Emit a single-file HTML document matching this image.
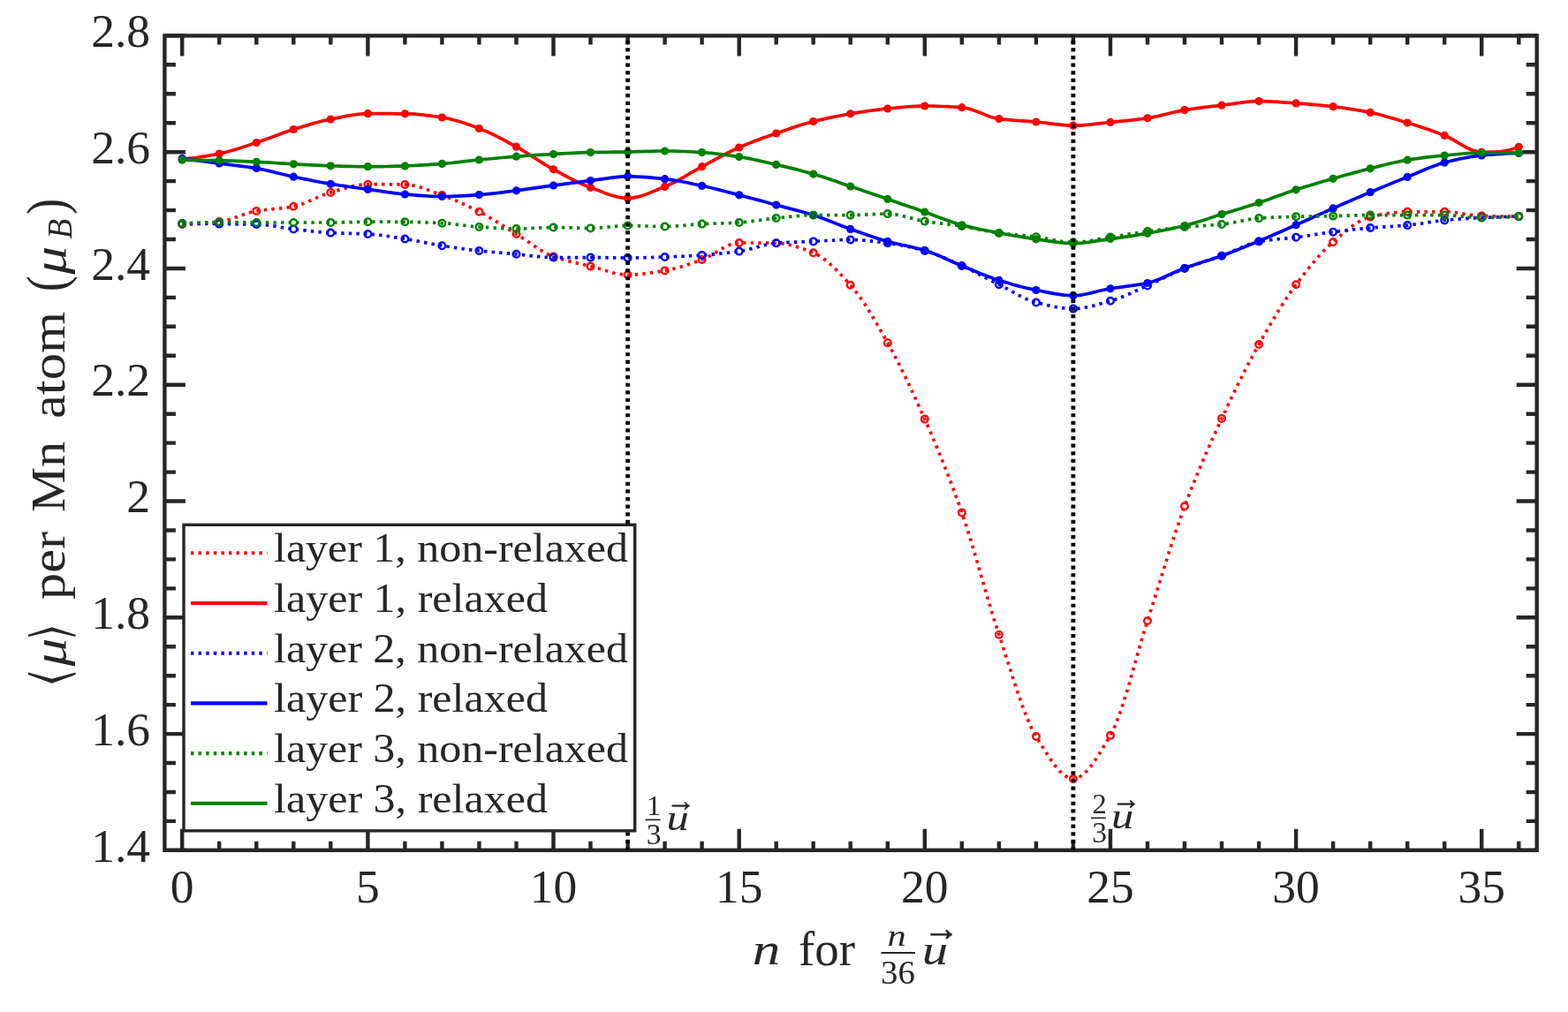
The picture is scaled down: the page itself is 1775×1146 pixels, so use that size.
<!DOCTYPE html><html><head><meta charset="utf-8"><title>Magnetic moment per Mn atom</title><style>html,body{margin:0;padding:0;background:#fff;overflow:hidden}svg{display:block}</style></head><body>
<svg width="1775" height="1146" viewBox="0 0 1775 1146">
<rect width="1775" height="1146" fill="#fff"/>
<defs><filter id="b" x="-1%" y="-1%" width="102%" height="102%"><feGaussianBlur stdDeviation="0.55"/></filter></defs>
<g filter="url(#b)">
<path d="M206.2,962.8V938.8M206.2,40.45V63.45M248.2,962.8V952.8M248.2,40.45V50.45M290.3,962.8V952.8M290.3,40.45V50.45M332.3,962.8V952.8M332.3,40.45V50.45M374.3,962.8V952.8M374.3,40.45V50.45M416.4,962.8V938.8M416.4,40.45V63.45M458.4,962.8V952.8M458.4,40.45V50.45M500.4,962.8V952.8M500.4,40.45V50.45M542.4,962.8V952.8M542.4,40.45V50.45M584.5,962.8V952.8M584.5,40.45V50.45M626.5,962.8V938.8M626.5,40.45V63.45M668.5,962.8V952.8M668.5,40.45V50.45M710.6,962.8V952.8M710.6,40.45V50.45M752.6,962.8V952.8M752.6,40.45V50.45M794.6,962.8V952.8M794.6,40.45V50.45M836.7,962.8V938.8M836.7,40.45V63.45M878.7,962.8V952.8M878.7,40.45V50.45M920.7,962.8V952.8M920.7,40.45V50.45M962.7,962.8V952.8M962.7,40.45V50.45M1004.8,962.8V952.8M1004.8,40.45V50.45M1046.8,962.8V938.8M1046.8,40.45V63.45M1088.8,962.8V952.8M1088.8,40.45V50.45M1130.9,962.8V952.8M1130.9,40.45V50.45M1172.9,962.8V952.8M1172.9,40.45V50.45M1214.9,962.8V952.8M1214.9,40.45V50.45M1257.0,962.8V938.8M1257.0,40.45V63.45M1299.0,962.8V952.8M1299.0,40.45V50.45M1341.0,962.8V952.8M1341.0,40.45V50.45M1383.0,962.8V952.8M1383.0,40.45V50.45M1425.1,962.8V952.8M1425.1,40.45V50.45M1467.1,962.8V938.8M1467.1,40.45V63.45M1509.1,962.8V952.8M1509.1,40.45V50.45M1551.2,962.8V952.8M1551.2,40.45V50.45M1593.2,962.8V952.8M1593.2,40.45V50.45M1635.2,962.8V952.8M1635.2,40.45V50.45M1677.2,962.8V938.8M1677.2,40.45V63.45M1719.3,962.8V952.8M1719.3,40.45V50.45M186.4,962.9H209.9M1739.7,962.9H1716.7M186.4,929.9H198.9M1739.7,929.9H1727.7M186.4,897.0H198.9M1739.7,897.0H1727.7M186.4,864.0H198.9M1739.7,864.0H1727.7M186.4,831.1H209.9M1739.7,831.1H1716.7M186.4,798.1H198.9M1739.7,798.1H1727.7M186.4,765.2H198.9M1739.7,765.2H1727.7M186.4,732.2H198.9M1739.7,732.2H1727.7M186.4,699.3H209.9M1739.7,699.3H1716.7M186.4,666.4H198.9M1739.7,666.4H1727.7M186.4,633.4H198.9M1739.7,633.4H1727.7M186.4,600.5H198.9M1739.7,600.5H1727.7M186.4,567.5H209.9M1739.7,567.5H1716.7M186.4,534.6H198.9M1739.7,534.6H1727.7M186.4,501.6H198.9M1739.7,501.6H1727.7M186.4,468.7H198.9M1739.7,468.7H1727.7M186.4,435.7H209.9M1739.7,435.7H1716.7M186.4,402.8H198.9M1739.7,402.8H1727.7M186.4,369.8H198.9M1739.7,369.8H1727.7M186.4,336.9H198.9M1739.7,336.9H1727.7M186.4,304.0H209.9M1739.7,304.0H1716.7M186.4,271.0H198.9M1739.7,271.0H1727.7M186.4,238.1H198.9M1739.7,238.1H1727.7M186.4,205.1H198.9M1739.7,205.1H1727.7M186.4,172.2H209.9M1739.7,172.2H1716.7M186.4,139.2H198.9M1739.7,139.2H1727.7M186.4,106.3H198.9M1739.7,106.3H1727.7M186.4,73.3H198.9M1739.7,73.3H1727.7M186.4,40.4H209.9M1739.7,40.4H1716.7" stroke="#262626" stroke-width="4.4" fill="none"/>
<rect x="186.4" y="40.45" width="1553.3" height="922.3499999999999" fill="none" stroke="#262626" stroke-width="4.4"/>
<g fill="none" stroke-linejoin="round">
<polyline points="206.2,254.0 211.5,253.9 216.7,253.8 222.0,253.5 227.2,253.1 232.5,252.7 237.7,252.1 243.0,251.6 248.2,251.0 253.5,250.1 258.7,248.8 264.0,247.1 269.2,245.3 274.5,243.4 279.8,241.7 285.0,240.1 290.3,239.0 295.5,238.2 300.8,237.5 306.0,237.0 311.3,236.5 316.5,236.0 321.8,235.4 327.0,234.7 332.3,233.8 337.5,232.5 342.8,230.8 348.1,228.6 353.3,226.3 358.6,223.9 363.8,221.7 369.1,219.6 374.3,217.9 379.6,216.4 384.8,214.8 390.1,213.3 395.3,211.8 400.6,210.6 405.8,209.6 411.1,208.9 416.4,208.7 421.6,208.7 426.9,208.7 432.1,208.7 437.4,208.8 442.6,208.8 447.9,208.9 453.1,208.9 458.4,209.0 463.6,209.4 468.9,210.3 474.1,211.6 479.4,213.2 484.6,215.1 489.9,217.1 495.2,219.1 500.4,221.0 505.7,222.9 510.9,225.0 516.2,227.2 521.4,229.5 526.7,232.0 531.9,234.5 537.2,237.1 542.4,239.8 547.7,242.6 552.9,245.6 558.2,248.7 563.5,251.9 568.7,255.2 574.0,258.5 579.2,261.8 584.5,265.0 589.7,268.3 595.0,271.8 600.2,275.4 605.5,279.0 610.7,282.4 616.0,285.5 621.2,288.3 626.5,290.5 631.8,292.3 637.0,293.9 642.3,295.4 647.5,296.7 652.8,297.9 658.0,299.1 663.3,300.3 668.5,301.6 673.8,303.0 679.0,304.5 684.3,306.1 689.5,307.7 694.8,309.1 700.1,310.2 705.3,310.9 710.6,311.2 715.8,311.1 721.1,310.8 726.3,310.3 731.6,309.7 736.8,308.9 742.1,308.1 747.3,307.3 752.6,306.4 757.8,305.4 763.1,304.2 768.4,302.8 773.6,301.2 778.9,299.5 784.1,297.7 789.4,295.9 794.6,294.0 799.9,291.7 805.1,288.9 810.4,285.8 815.6,282.6 820.9,279.7 826.1,277.3 831.4,275.6 836.7,275.0 841.9,275.0 847.2,275.0 852.4,275.0 857.7,275.1 862.9,275.1 868.2,275.2 873.4,275.2 878.7,275.3 883.9,275.6 889.2,276.3 894.4,277.4 899.7,278.8 904.9,280.4 910.2,282.2 915.5,284.2 920.7,286.3 926.0,288.8 931.2,292.2 936.5,296.2 941.7,300.8 947.0,305.9 952.2,311.3 957.5,317.0 962.7,322.8 968.0,329.1 973.2,336.1 978.5,343.8 983.8,352.1 989.0,360.7 994.3,369.7 999.5,378.9 1004.8,388.2 1010.0,397.7 1015.3,407.7 1020.5,418.1 1025.8,428.8 1031.0,439.9 1036.3,451.2 1041.5,462.8 1046.8,474.6 1052.1,486.6 1057.3,498.9 1062.6,511.5 1067.8,524.4 1073.1,537.7 1078.3,551.5 1083.6,565.7 1088.8,580.4 1094.1,596.1 1099.3,613.0 1104.6,630.7 1109.8,648.8 1115.1,667.1 1120.4,685.0 1125.6,702.4 1130.9,718.7 1136.1,734.8 1141.4,751.2 1146.6,767.6 1151.9,783.6 1157.1,798.6 1162.4,812.3 1167.6,824.3 1172.9,834.0 1178.1,842.5 1183.4,851.0 1188.7,859.1 1193.9,866.5 1199.2,872.8 1204.4,877.7 1209.7,880.9 1214.9,882.0 1220.2,880.9 1225.4,877.6 1230.7,872.7 1235.9,866.3 1241.2,858.8 1246.4,850.4 1251.7,841.7 1257.0,832.7 1262.2,822.1 1267.5,808.5 1272.7,792.6 1278.0,775.1 1283.2,756.8 1288.5,738.2 1293.7,720.0 1299.0,703.0 1304.2,686.6 1309.5,669.8 1314.7,652.9 1320.0,636.0 1325.2,619.4 1330.5,603.3 1335.8,587.9 1341.0,573.3 1346.3,559.5 1351.5,546.2 1356.8,533.4 1362.0,520.9 1367.3,508.8 1372.5,497.0 1377.8,485.3 1383.0,473.9 1388.3,462.6 1393.5,451.5 1398.8,440.6 1404.1,429.9 1409.3,419.5 1414.6,409.4 1419.8,399.5 1425.1,390.0 1430.3,380.7 1435.6,371.5 1440.8,362.6 1446.1,353.8 1451.3,345.4 1456.6,337.3 1461.8,329.6 1467.1,322.3 1472.4,315.3 1477.6,308.5 1482.9,301.9 1488.1,295.6 1493.4,289.6 1498.6,283.9 1503.9,278.7 1509.1,274.0 1514.4,269.5 1519.6,265.0 1524.9,260.6 1530.1,256.5 1535.4,252.9 1540.7,249.7 1545.9,247.3 1551.2,245.6 1556.4,244.4 1561.7,243.3 1566.9,242.4 1572.2,241.5 1577.4,240.8 1582.7,240.3 1587.9,239.9 1593.2,239.8 1598.4,239.8 1603.7,239.8 1609.0,239.8 1614.2,239.8 1619.5,239.8 1624.7,239.8 1630.0,239.8 1635.2,239.8 1640.5,240.0 1645.7,240.5 1651.0,241.2 1656.2,242.1 1661.5,242.9 1666.7,243.7 1672.0,244.3 1677.2,244.6 1682.5,244.7 1687.8,244.8 1693.0,244.9 1698.3,245.0 1703.5,245.0 1708.8,245.1 1714.0,245.1 1719.3,245.1" stroke="#ff0000" stroke-width="3.7" stroke-dasharray="3.4 5.2"/>
<circle cx="206.2" cy="254.0" r="3.8" stroke="#ff0000" stroke-width="2.4" fill="#fff" fill-opacity="0"/>
<circle cx="248.2" cy="251.0" r="3.8" stroke="#ff0000" stroke-width="2.4" fill="#fff" fill-opacity="0"/>
<circle cx="290.3" cy="239.0" r="3.8" stroke="#ff0000" stroke-width="2.4" fill="#fff" fill-opacity="0"/>
<circle cx="332.3" cy="233.8" r="3.8" stroke="#ff0000" stroke-width="2.4" fill="#fff" fill-opacity="0"/>
<circle cx="374.3" cy="217.9" r="3.8" stroke="#ff0000" stroke-width="2.4" fill="#fff" fill-opacity="0"/>
<circle cx="416.4" cy="208.7" r="3.8" stroke="#ff0000" stroke-width="2.4" fill="#fff" fill-opacity="0"/>
<circle cx="458.4" cy="209.0" r="3.8" stroke="#ff0000" stroke-width="2.4" fill="#fff" fill-opacity="0"/>
<circle cx="500.4" cy="221.0" r="3.8" stroke="#ff0000" stroke-width="2.4" fill="#fff" fill-opacity="0"/>
<circle cx="542.4" cy="239.8" r="3.8" stroke="#ff0000" stroke-width="2.4" fill="#fff" fill-opacity="0"/>
<circle cx="584.5" cy="265.0" r="3.8" stroke="#ff0000" stroke-width="2.4" fill="#fff" fill-opacity="0"/>
<circle cx="626.5" cy="290.5" r="3.8" stroke="#ff0000" stroke-width="2.4" fill="#fff" fill-opacity="0"/>
<circle cx="668.5" cy="301.6" r="3.8" stroke="#ff0000" stroke-width="2.4" fill="#fff" fill-opacity="0"/>
<circle cx="710.6" cy="311.2" r="3.8" stroke="#ff0000" stroke-width="2.4" fill="#fff" fill-opacity="0"/>
<circle cx="752.6" cy="306.4" r="3.8" stroke="#ff0000" stroke-width="2.4" fill="#fff" fill-opacity="0"/>
<circle cx="794.6" cy="294.0" r="3.8" stroke="#ff0000" stroke-width="2.4" fill="#fff" fill-opacity="0"/>
<circle cx="836.7" cy="275.0" r="3.8" stroke="#ff0000" stroke-width="2.4" fill="#fff" fill-opacity="0"/>
<circle cx="878.7" cy="275.3" r="3.8" stroke="#ff0000" stroke-width="2.4" fill="#fff" fill-opacity="0"/>
<circle cx="920.7" cy="286.3" r="3.8" stroke="#ff0000" stroke-width="2.4" fill="#fff" fill-opacity="0"/>
<circle cx="962.7" cy="322.8" r="3.8" stroke="#ff0000" stroke-width="2.4" fill="#fff" fill-opacity="0"/>
<circle cx="1004.8" cy="388.2" r="3.8" stroke="#ff0000" stroke-width="2.4" fill="#fff" fill-opacity="0"/>
<circle cx="1046.8" cy="474.6" r="3.8" stroke="#ff0000" stroke-width="2.4" fill="#fff" fill-opacity="0"/>
<circle cx="1088.8" cy="580.4" r="3.8" stroke="#ff0000" stroke-width="2.4" fill="#fff" fill-opacity="0"/>
<circle cx="1130.9" cy="718.7" r="3.8" stroke="#ff0000" stroke-width="2.4" fill="#fff" fill-opacity="0"/>
<circle cx="1172.9" cy="834.0" r="3.8" stroke="#ff0000" stroke-width="2.4" fill="#fff" fill-opacity="0"/>
<circle cx="1214.9" cy="882.0" r="3.8" stroke="#ff0000" stroke-width="2.4" fill="#fff" fill-opacity="0"/>
<circle cx="1257.0" cy="832.7" r="3.8" stroke="#ff0000" stroke-width="2.4" fill="#fff" fill-opacity="0"/>
<circle cx="1299.0" cy="703.0" r="3.8" stroke="#ff0000" stroke-width="2.4" fill="#fff" fill-opacity="0"/>
<circle cx="1341.0" cy="573.3" r="3.8" stroke="#ff0000" stroke-width="2.4" fill="#fff" fill-opacity="0"/>
<circle cx="1383.0" cy="473.9" r="3.8" stroke="#ff0000" stroke-width="2.4" fill="#fff" fill-opacity="0"/>
<circle cx="1425.1" cy="390.0" r="3.8" stroke="#ff0000" stroke-width="2.4" fill="#fff" fill-opacity="0"/>
<circle cx="1467.1" cy="322.3" r="3.8" stroke="#ff0000" stroke-width="2.4" fill="#fff" fill-opacity="0"/>
<circle cx="1509.1" cy="274.0" r="3.8" stroke="#ff0000" stroke-width="2.4" fill="#fff" fill-opacity="0"/>
<circle cx="1551.2" cy="245.6" r="3.8" stroke="#ff0000" stroke-width="2.4" fill="#fff" fill-opacity="0"/>
<circle cx="1593.2" cy="239.8" r="3.8" stroke="#ff0000" stroke-width="2.4" fill="#fff" fill-opacity="0"/>
<circle cx="1635.2" cy="239.8" r="3.8" stroke="#ff0000" stroke-width="2.4" fill="#fff" fill-opacity="0"/>
<circle cx="1677.2" cy="244.6" r="3.8" stroke="#ff0000" stroke-width="2.4" fill="#fff" fill-opacity="0"/>
<circle cx="1719.3" cy="245.1" r="3.8" stroke="#ff0000" stroke-width="2.4" fill="#fff" fill-opacity="0"/>
<polyline points="206.2,180.1 211.5,179.7 216.7,179.1 222.0,178.5 227.2,177.7 232.5,176.9 237.7,176.0 243.0,175.0 248.2,174.0 253.5,172.9 258.7,171.5 264.0,170.0 269.2,168.4 274.5,166.7 279.8,165.0 285.0,163.2 290.3,161.5 295.5,159.7 300.8,157.8 306.0,155.9 311.3,153.9 316.5,152.0 321.8,150.0 327.0,148.2 332.3,146.5 337.5,144.9 342.8,143.3 348.1,141.7 353.3,140.1 358.6,138.7 363.8,137.3 369.1,136.1 374.3,135.0 379.6,134.0 384.8,132.9 390.1,131.8 395.3,130.8 400.6,130.0 405.8,129.3 411.1,128.9 416.4,128.7 421.6,128.7 426.9,128.7 432.1,128.7 437.4,128.7 442.6,128.7 447.9,128.8 453.1,128.8 458.4,128.8 463.6,128.9 468.9,129.2 474.1,129.6 479.4,130.1 484.6,130.8 489.9,131.5 495.2,132.2 500.4,133.0 505.7,133.9 510.9,135.1 516.2,136.5 521.4,138.1 526.7,139.8 531.9,141.6 537.2,143.6 542.4,145.5 547.7,147.6 552.9,149.9 558.2,152.3 563.5,154.9 568.7,157.7 574.0,160.5 579.2,163.3 584.5,166.2 589.7,169.2 595.0,172.4 600.2,175.7 605.5,179.0 610.7,182.4 616.0,185.7 621.2,188.8 626.5,191.8 631.8,194.7 637.0,197.5 642.3,200.3 647.5,203.0 652.8,205.6 658.0,208.0 663.3,210.3 668.5,212.3 673.8,214.3 679.0,216.3 684.3,218.4 689.5,220.3 694.8,221.9 700.1,223.2 705.3,224.1 710.6,224.4 715.8,224.1 721.1,223.1 726.3,221.7 731.6,220.0 736.8,217.9 742.1,215.8 747.3,213.5 752.6,211.4 757.8,209.1 763.1,206.6 768.4,203.7 773.6,200.8 778.9,197.7 784.1,194.6 789.4,191.6 794.6,188.7 799.9,185.9 805.1,183.1 810.4,180.2 815.6,177.4 820.9,174.6 826.1,171.9 831.4,169.4 836.7,167.0 841.9,164.7 847.2,162.6 852.4,160.5 857.7,158.5 862.9,156.6 868.2,154.7 873.4,152.8 878.7,151.0 883.9,149.2 889.2,147.4 894.4,145.6 899.7,143.8 904.9,142.1 910.2,140.5 915.5,139.0 920.7,137.6 926.0,136.3 931.2,135.1 936.5,133.9 941.7,132.7 947.0,131.7 952.2,130.7 957.5,129.7 962.7,128.8 968.0,127.9 973.2,127.1 978.5,126.3 983.8,125.5 989.0,124.8 994.3,124.1 999.5,123.5 1004.8,123.0 1010.0,122.5 1015.3,122.0 1020.5,121.5 1025.8,121.0 1031.0,120.6 1036.3,120.3 1041.5,120.1 1046.8,120.0 1052.1,120.0 1057.3,120.1 1062.6,120.3 1067.8,120.5 1073.1,120.7 1078.3,121.0 1083.6,121.3 1088.8,121.7 1094.1,122.5 1099.3,123.9 1104.6,125.7 1109.8,127.8 1115.1,129.9 1120.4,131.9 1125.6,133.5 1130.9,134.5 1136.1,135.1 1141.4,135.6 1146.6,136.1 1151.9,136.5 1157.1,136.8 1162.4,137.2 1167.6,137.6 1172.9,138.0 1178.1,138.5 1183.4,139.2 1188.7,139.9 1193.9,140.6 1199.2,141.2 1204.4,141.7 1209.7,142.1 1214.9,142.2 1220.2,142.1 1225.4,141.8 1230.7,141.4 1235.9,140.8 1241.2,140.2 1246.4,139.6 1251.7,139.0 1257.0,138.4 1262.2,137.9 1267.5,137.4 1272.7,136.9 1278.0,136.3 1283.2,135.8 1288.5,135.2 1293.7,134.5 1299.0,133.8 1304.2,132.9 1309.5,131.8 1314.7,130.6 1320.0,129.3 1325.2,128.0 1330.5,126.7 1335.8,125.6 1341.0,124.6 1346.3,123.8 1351.5,123.0 1356.8,122.3 1362.0,121.7 1367.3,121.0 1372.5,120.4 1377.8,119.8 1383.0,119.2 1388.3,118.5 1393.5,117.8 1398.8,117.0 1404.1,116.3 1409.3,115.6 1414.6,115.1 1419.8,114.7 1425.1,114.6 1430.3,114.7 1435.6,114.8 1440.8,115.1 1446.1,115.4 1451.3,115.8 1456.6,116.1 1461.8,116.5 1467.1,116.9 1472.4,117.3 1477.6,117.7 1482.9,118.1 1488.1,118.6 1493.4,119.0 1498.6,119.6 1503.9,120.1 1509.1,120.7 1514.4,121.3 1519.6,122.0 1524.9,122.8 1530.1,123.6 1535.4,124.5 1540.7,125.4 1545.9,126.4 1551.2,127.4 1556.4,128.5 1561.7,129.8 1566.9,131.2 1572.2,132.7 1577.4,134.2 1582.7,135.8 1587.9,137.4 1593.2,139.0 1598.4,140.6 1603.7,142.3 1609.0,144.0 1614.2,145.8 1619.5,147.6 1624.7,149.5 1630.0,151.4 1635.2,153.4 1640.5,155.8 1645.7,158.7 1651.0,161.8 1656.2,164.9 1661.5,167.8 1666.7,170.1 1672.0,171.7 1677.2,172.3 1682.5,172.3 1687.8,172.2 1693.0,172.0 1698.3,171.6 1703.5,170.8 1708.8,169.8 1714.0,168.3 1719.3,166.3" stroke="#ff0000" stroke-width="3.7"/>
<circle cx="206.2" cy="180.1" r="4.6" fill="#ff0000"/>
<circle cx="248.2" cy="174.0" r="4.6" fill="#ff0000"/>
<circle cx="290.3" cy="161.5" r="4.6" fill="#ff0000"/>
<circle cx="332.3" cy="146.5" r="4.6" fill="#ff0000"/>
<circle cx="374.3" cy="135.0" r="4.6" fill="#ff0000"/>
<circle cx="416.4" cy="128.7" r="4.6" fill="#ff0000"/>
<circle cx="458.4" cy="128.8" r="4.6" fill="#ff0000"/>
<circle cx="500.4" cy="133.0" r="4.6" fill="#ff0000"/>
<circle cx="542.4" cy="145.5" r="4.6" fill="#ff0000"/>
<circle cx="584.5" cy="166.2" r="4.6" fill="#ff0000"/>
<circle cx="626.5" cy="191.8" r="4.6" fill="#ff0000"/>
<circle cx="668.5" cy="212.3" r="4.6" fill="#ff0000"/>
<circle cx="710.6" cy="224.4" r="4.6" fill="#ff0000"/>
<circle cx="752.6" cy="211.4" r="4.6" fill="#ff0000"/>
<circle cx="794.6" cy="188.7" r="4.6" fill="#ff0000"/>
<circle cx="836.7" cy="167.0" r="4.6" fill="#ff0000"/>
<circle cx="878.7" cy="151.0" r="4.6" fill="#ff0000"/>
<circle cx="920.7" cy="137.6" r="4.6" fill="#ff0000"/>
<circle cx="962.7" cy="128.8" r="4.6" fill="#ff0000"/>
<circle cx="1004.8" cy="123.0" r="4.6" fill="#ff0000"/>
<circle cx="1046.8" cy="120.0" r="4.6" fill="#ff0000"/>
<circle cx="1088.8" cy="121.7" r="4.6" fill="#ff0000"/>
<circle cx="1130.9" cy="134.5" r="4.6" fill="#ff0000"/>
<circle cx="1172.9" cy="138.0" r="4.6" fill="#ff0000"/>
<circle cx="1214.9" cy="142.2" r="4.6" fill="#ff0000"/>
<circle cx="1257.0" cy="138.4" r="4.6" fill="#ff0000"/>
<circle cx="1299.0" cy="133.8" r="4.6" fill="#ff0000"/>
<circle cx="1341.0" cy="124.6" r="4.6" fill="#ff0000"/>
<circle cx="1383.0" cy="119.2" r="4.6" fill="#ff0000"/>
<circle cx="1425.1" cy="114.6" r="4.6" fill="#ff0000"/>
<circle cx="1467.1" cy="116.9" r="4.6" fill="#ff0000"/>
<circle cx="1509.1" cy="120.7" r="4.6" fill="#ff0000"/>
<circle cx="1551.2" cy="127.4" r="4.6" fill="#ff0000"/>
<circle cx="1593.2" cy="139.0" r="4.6" fill="#ff0000"/>
<circle cx="1635.2" cy="153.4" r="4.6" fill="#ff0000"/>
<circle cx="1677.2" cy="172.3" r="4.6" fill="#ff0000"/>
<circle cx="1719.3" cy="166.3" r="4.6" fill="#ff0000"/>
<polyline points="206.2,253.0 211.5,253.1 216.7,253.2 222.0,253.3 227.2,253.3 232.5,253.4 237.7,253.5 243.0,253.5 248.2,253.6 253.5,253.7 258.7,253.7 264.0,253.7 269.2,253.8 274.5,253.8 279.8,253.9 285.0,253.9 290.3,254.0 295.5,254.2 300.8,254.7 306.0,255.4 311.3,256.2 316.5,257.1 321.8,257.9 327.0,258.7 332.3,259.4 337.5,260.0 342.8,260.6 348.1,261.2 353.3,261.8 358.6,262.4 363.8,262.9 369.1,263.3 374.3,263.6 379.6,263.8 384.8,264.0 390.1,264.2 395.3,264.3 400.6,264.4 405.8,264.6 411.1,264.8 416.4,265.0 421.6,265.4 426.9,265.9 432.1,266.5 437.4,267.2 442.6,268.0 447.9,268.8 453.1,269.7 458.4,270.5 463.6,271.4 468.9,272.3 474.1,273.3 479.4,274.3 484.6,275.4 489.9,276.4 495.2,277.3 500.4,278.2 505.7,279.0 510.9,279.8 516.2,280.6 521.4,281.4 526.7,282.1 531.9,282.8 537.2,283.4 542.4,284.0 547.7,284.6 552.9,285.1 558.2,285.5 563.5,286.0 568.7,286.4 574.0,286.9 579.2,287.3 584.5,287.8 589.7,288.3 595.0,288.9 600.2,289.6 605.5,290.2 610.7,290.7 616.0,291.2 621.2,291.5 626.5,291.6 631.8,291.6 637.0,291.6 642.3,291.6 647.5,291.6 652.8,291.6 658.0,291.6 663.3,291.6 668.5,291.6 673.8,291.6 679.0,291.7 684.3,291.7 689.5,291.8 694.8,291.9 700.1,291.9 705.3,292.0 710.6,292.0 715.8,292.0 721.1,291.9 726.3,291.8 731.6,291.7 736.8,291.5 742.1,291.3 747.3,291.2 752.6,291.0 757.8,290.8 763.1,290.6 768.4,290.4 773.6,290.2 778.9,289.9 784.1,289.6 789.4,289.3 794.6,289.0 799.9,288.6 805.1,288.2 810.4,287.7 815.6,287.2 820.9,286.6 826.1,286.0 831.4,285.3 836.7,284.6 841.9,283.7 847.2,282.5 852.4,281.1 857.7,279.6 862.9,278.2 868.2,276.9 873.4,275.9 878.7,275.3 883.9,274.9 889.2,274.6 894.4,274.4 899.7,274.2 904.9,274.0 910.2,273.8 915.5,273.6 920.7,273.4 926.0,273.1 931.2,272.8 936.5,272.5 941.7,272.2 947.0,271.9 952.2,271.7 957.5,271.6 962.7,271.5 968.0,271.6 973.2,271.8 978.5,272.2 983.8,272.7 989.0,273.3 994.3,274.0 999.5,274.6 1004.8,275.3 1010.0,276.0 1015.3,276.9 1020.5,277.8 1025.8,278.9 1031.0,280.0 1036.3,281.3 1041.5,282.6 1046.8,284.0 1052.1,285.6 1057.3,287.4 1062.6,289.4 1067.8,291.6 1073.1,293.9 1078.3,296.2 1083.6,298.6 1088.8,301.0 1094.1,303.4 1099.3,306.0 1104.6,308.6 1109.8,311.4 1115.1,314.1 1120.4,316.9 1125.6,319.6 1130.9,322.2 1136.1,324.9 1141.4,327.8 1146.6,330.7 1151.9,333.6 1157.1,336.4 1162.4,338.8 1167.6,340.9 1172.9,342.5 1178.1,343.8 1183.4,345.1 1188.7,346.3 1193.9,347.4 1199.2,348.3 1204.4,349.0 1209.7,349.4 1214.9,349.6 1220.2,349.4 1225.4,348.8 1230.7,347.8 1235.9,346.7 1241.2,345.3 1246.4,343.8 1251.7,342.3 1257.0,340.8 1262.2,339.2 1267.5,337.3 1272.7,335.2 1278.0,333.0 1283.2,330.6 1288.5,328.2 1293.7,325.8 1299.0,323.5 1304.2,321.1 1309.5,318.6 1314.7,316.1 1320.0,313.5 1325.2,311.0 1330.5,308.5 1335.8,306.2 1341.0,304.0 1346.3,302.0 1351.5,300.2 1356.8,298.4 1362.0,296.7 1367.3,295.0 1372.5,293.3 1377.8,291.5 1383.0,289.7 1388.3,287.7 1393.5,285.4 1398.8,283.0 1404.1,280.6 1409.3,278.4 1414.6,276.4 1419.8,274.7 1425.1,273.5 1430.3,272.7 1435.6,272.0 1440.8,271.4 1446.1,270.8 1451.3,270.3 1456.6,269.9 1461.8,269.3 1467.1,268.7 1472.4,268.0 1477.6,267.3 1482.9,266.5 1488.1,265.7 1493.4,264.9 1498.6,264.1 1503.9,263.4 1509.1,262.7 1514.4,262.0 1519.6,261.4 1524.9,260.8 1530.1,260.1 1535.4,259.5 1540.7,259.0 1545.9,258.5 1551.2,258.0 1556.4,257.6 1561.7,257.2 1566.9,256.9 1572.2,256.6 1577.4,256.3 1582.7,255.9 1587.9,255.5 1593.2,255.1 1598.4,254.5 1603.7,253.8 1609.0,253.1 1614.2,252.2 1619.5,251.4 1624.7,250.7 1630.0,250.0 1635.2,249.4 1640.5,248.9 1645.7,248.5 1651.0,248.1 1656.2,247.7 1661.5,247.4 1666.7,247.0 1672.0,246.8 1677.2,246.5 1682.5,246.3 1687.8,246.0 1693.0,245.8 1698.3,245.6 1703.5,245.5 1708.8,245.3 1714.0,245.2 1719.3,245.1" stroke="#0000ff" stroke-width="3.7" stroke-dasharray="3.4 5.2"/>
<circle cx="206.2" cy="253.0" r="3.8" stroke="#0000ff" stroke-width="2.4" fill="#fff" fill-opacity="0"/>
<circle cx="248.2" cy="253.6" r="3.8" stroke="#0000ff" stroke-width="2.4" fill="#fff" fill-opacity="0"/>
<circle cx="290.3" cy="254.0" r="3.8" stroke="#0000ff" stroke-width="2.4" fill="#fff" fill-opacity="0"/>
<circle cx="332.3" cy="259.4" r="3.8" stroke="#0000ff" stroke-width="2.4" fill="#fff" fill-opacity="0"/>
<circle cx="374.3" cy="263.6" r="3.8" stroke="#0000ff" stroke-width="2.4" fill="#fff" fill-opacity="0"/>
<circle cx="416.4" cy="265.0" r="3.8" stroke="#0000ff" stroke-width="2.4" fill="#fff" fill-opacity="0"/>
<circle cx="458.4" cy="270.5" r="3.8" stroke="#0000ff" stroke-width="2.4" fill="#fff" fill-opacity="0"/>
<circle cx="500.4" cy="278.2" r="3.8" stroke="#0000ff" stroke-width="2.4" fill="#fff" fill-opacity="0"/>
<circle cx="542.4" cy="284.0" r="3.8" stroke="#0000ff" stroke-width="2.4" fill="#fff" fill-opacity="0"/>
<circle cx="584.5" cy="287.8" r="3.8" stroke="#0000ff" stroke-width="2.4" fill="#fff" fill-opacity="0"/>
<circle cx="626.5" cy="291.6" r="3.8" stroke="#0000ff" stroke-width="2.4" fill="#fff" fill-opacity="0"/>
<circle cx="668.5" cy="291.6" r="3.8" stroke="#0000ff" stroke-width="2.4" fill="#fff" fill-opacity="0"/>
<circle cx="710.6" cy="292.0" r="3.8" stroke="#0000ff" stroke-width="2.4" fill="#fff" fill-opacity="0"/>
<circle cx="752.6" cy="291.0" r="3.8" stroke="#0000ff" stroke-width="2.4" fill="#fff" fill-opacity="0"/>
<circle cx="794.6" cy="289.0" r="3.8" stroke="#0000ff" stroke-width="2.4" fill="#fff" fill-opacity="0"/>
<circle cx="836.7" cy="284.6" r="3.8" stroke="#0000ff" stroke-width="2.4" fill="#fff" fill-opacity="0"/>
<circle cx="878.7" cy="275.3" r="3.8" stroke="#0000ff" stroke-width="2.4" fill="#fff" fill-opacity="0"/>
<circle cx="920.7" cy="273.4" r="3.8" stroke="#0000ff" stroke-width="2.4" fill="#fff" fill-opacity="0"/>
<circle cx="962.7" cy="271.5" r="3.8" stroke="#0000ff" stroke-width="2.4" fill="#fff" fill-opacity="0"/>
<circle cx="1004.8" cy="275.3" r="3.8" stroke="#0000ff" stroke-width="2.4" fill="#fff" fill-opacity="0"/>
<circle cx="1046.8" cy="284.0" r="3.8" stroke="#0000ff" stroke-width="2.4" fill="#fff" fill-opacity="0"/>
<circle cx="1088.8" cy="301.0" r="3.8" stroke="#0000ff" stroke-width="2.4" fill="#fff" fill-opacity="0"/>
<circle cx="1130.9" cy="322.2" r="3.8" stroke="#0000ff" stroke-width="2.4" fill="#fff" fill-opacity="0"/>
<circle cx="1172.9" cy="342.5" r="3.8" stroke="#0000ff" stroke-width="2.4" fill="#fff" fill-opacity="0"/>
<circle cx="1214.9" cy="349.6" r="3.8" stroke="#0000ff" stroke-width="2.4" fill="#fff" fill-opacity="0"/>
<circle cx="1257.0" cy="340.8" r="3.8" stroke="#0000ff" stroke-width="2.4" fill="#fff" fill-opacity="0"/>
<circle cx="1299.0" cy="323.5" r="3.8" stroke="#0000ff" stroke-width="2.4" fill="#fff" fill-opacity="0"/>
<circle cx="1341.0" cy="304.0" r="3.8" stroke="#0000ff" stroke-width="2.4" fill="#fff" fill-opacity="0"/>
<circle cx="1383.0" cy="289.7" r="3.8" stroke="#0000ff" stroke-width="2.4" fill="#fff" fill-opacity="0"/>
<circle cx="1425.1" cy="273.5" r="3.8" stroke="#0000ff" stroke-width="2.4" fill="#fff" fill-opacity="0"/>
<circle cx="1467.1" cy="268.7" r="3.8" stroke="#0000ff" stroke-width="2.4" fill="#fff" fill-opacity="0"/>
<circle cx="1509.1" cy="262.7" r="3.8" stroke="#0000ff" stroke-width="2.4" fill="#fff" fill-opacity="0"/>
<circle cx="1551.2" cy="258.0" r="3.8" stroke="#0000ff" stroke-width="2.4" fill="#fff" fill-opacity="0"/>
<circle cx="1593.2" cy="255.1" r="3.8" stroke="#0000ff" stroke-width="2.4" fill="#fff" fill-opacity="0"/>
<circle cx="1635.2" cy="249.4" r="3.8" stroke="#0000ff" stroke-width="2.4" fill="#fff" fill-opacity="0"/>
<circle cx="1677.2" cy="246.5" r="3.8" stroke="#0000ff" stroke-width="2.4" fill="#fff" fill-opacity="0"/>
<circle cx="1719.3" cy="245.1" r="3.8" stroke="#0000ff" stroke-width="2.4" fill="#fff" fill-opacity="0"/>
<polyline points="206.2,179.5 211.5,180.2 216.7,180.9 222.0,181.6 227.2,182.2 232.5,182.9 237.7,183.6 243.0,184.3 248.2,185.0 253.5,185.7 258.7,186.3 264.0,187.0 269.2,187.6 274.5,188.3 279.8,189.0 285.0,189.8 290.3,190.6 295.5,191.6 300.8,192.7 306.0,193.9 311.3,195.2 316.5,196.5 321.8,197.8 327.0,199.0 332.3,200.2 337.5,201.3 342.8,202.4 348.1,203.4 353.3,204.5 358.6,205.5 363.8,206.5 369.1,207.4 374.3,208.3 379.6,209.1 384.8,210.0 390.1,210.7 395.3,211.5 400.6,212.2 405.8,213.0 411.1,213.7 416.4,214.4 421.6,215.2 426.9,215.9 432.1,216.7 437.4,217.5 442.6,218.2 447.9,218.9 453.1,219.5 458.4,220.0 463.6,220.4 468.9,220.9 474.1,221.3 479.4,221.7 484.6,222.0 489.9,222.3 495.2,222.4 500.4,222.5 505.7,222.5 510.9,222.3 516.2,222.1 521.4,221.9 526.7,221.6 531.9,221.3 537.2,220.9 542.4,220.6 547.7,220.2 552.9,219.7 558.2,219.1 563.5,218.5 568.7,217.8 574.0,217.2 579.2,216.5 584.5,215.8 589.7,215.1 595.0,214.4 600.2,213.7 605.5,212.9 610.7,212.2 616.0,211.4 621.2,210.7 626.5,210.0 631.8,209.3 637.0,208.6 642.3,207.9 647.5,207.2 652.8,206.6 658.0,205.9 663.3,205.2 668.5,204.6 673.8,203.9 679.0,203.1 684.3,202.3 689.5,201.6 694.8,200.9 700.1,200.3 705.3,199.9 710.6,199.8 715.8,199.9 721.1,200.1 726.3,200.3 731.6,200.7 736.8,201.2 742.1,201.7 747.3,202.2 752.6,202.7 757.8,203.3 763.1,204.1 768.4,205.0 773.6,206.0 778.9,207.0 784.1,208.2 789.4,209.3 794.6,210.4 799.9,211.5 805.1,212.8 810.4,214.0 815.6,215.4 820.9,216.7 826.1,218.1 831.4,219.4 836.7,220.8 841.9,222.2 847.2,223.6 852.4,225.0 857.7,226.4 862.9,227.8 868.2,229.2 873.4,230.7 878.7,232.1 883.9,233.5 889.2,234.9 894.4,236.2 899.7,237.6 904.9,239.0 910.2,240.5 915.5,242.0 920.7,243.6 926.0,245.3 931.2,247.2 936.5,249.2 941.7,251.3 947.0,253.4 952.2,255.5 957.5,257.5 962.7,259.4 968.0,261.3 973.2,263.1 978.5,265.0 983.8,266.8 989.0,268.6 994.3,270.3 999.5,271.9 1004.8,273.4 1010.0,274.8 1015.3,276.0 1020.5,277.2 1025.8,278.3 1031.0,279.5 1036.3,280.7 1041.5,282.0 1046.8,283.5 1052.1,285.2 1057.3,287.2 1062.6,289.4 1067.8,291.7 1073.1,294.1 1078.3,296.5 1083.6,298.8 1088.8,301.0 1094.1,303.1 1099.3,305.3 1104.6,307.5 1109.8,309.7 1115.1,311.8 1120.4,313.8 1125.6,315.7 1130.9,317.4 1136.1,319.0 1141.4,320.6 1146.6,322.2 1151.9,323.6 1157.1,325.0 1162.4,326.3 1167.6,327.4 1172.9,328.5 1178.1,329.5 1183.4,330.6 1188.7,331.6 1193.9,332.6 1199.2,333.4 1204.4,334.1 1209.7,334.5 1214.9,334.7 1220.2,334.5 1225.4,333.8 1230.7,332.8 1235.9,331.6 1241.2,330.3 1246.4,329.0 1251.7,327.8 1257.0,326.8 1262.2,326.0 1267.5,325.3 1272.7,324.6 1278.0,323.9 1283.2,323.2 1288.5,322.4 1293.7,321.6 1299.0,320.5 1304.2,319.1 1309.5,317.3 1314.7,315.2 1320.0,312.8 1325.2,310.4 1330.5,308.0 1335.8,305.7 1341.0,303.6 1346.3,301.7 1351.5,300.0 1356.8,298.3 1362.0,296.6 1367.3,294.9 1372.5,293.2 1377.8,291.4 1383.0,289.6 1388.3,287.7 1393.5,285.7 1398.8,283.7 1404.1,281.6 1409.3,279.5 1414.6,277.3 1419.8,275.2 1425.1,273.0 1430.3,270.8 1435.6,268.6 1440.8,266.3 1446.1,264.0 1451.3,261.7 1456.6,259.4 1461.8,257.0 1467.1,254.7 1472.4,252.4 1477.6,250.0 1482.9,247.7 1488.1,245.3 1493.4,242.9 1498.6,240.6 1503.9,238.2 1509.1,235.9 1514.4,233.6 1519.6,231.3 1524.9,229.0 1530.1,226.7 1535.4,224.4 1540.7,222.2 1545.9,219.9 1551.2,217.7 1556.4,215.5 1561.7,213.3 1566.9,211.1 1572.2,208.9 1577.4,206.8 1582.7,204.6 1587.9,202.5 1593.2,200.4 1598.4,198.2 1603.7,196.0 1609.0,193.7 1614.2,191.5 1619.5,189.4 1624.7,187.4 1630.0,185.6 1635.2,184.1 1640.5,182.8 1645.7,181.5 1651.0,180.3 1656.2,179.2 1661.5,178.2 1666.7,177.3 1672.0,176.6 1677.2,176.0 1682.5,175.5 1687.8,175.1 1693.0,174.6 1698.3,174.3 1703.5,174.0 1708.8,173.7 1714.0,173.6 1719.3,173.5" stroke="#0000ff" stroke-width="3.7"/>
<circle cx="206.2" cy="179.5" r="4.6" fill="#0000ff"/>
<circle cx="248.2" cy="185.0" r="4.6" fill="#0000ff"/>
<circle cx="290.3" cy="190.6" r="4.6" fill="#0000ff"/>
<circle cx="332.3" cy="200.2" r="4.6" fill="#0000ff"/>
<circle cx="374.3" cy="208.3" r="4.6" fill="#0000ff"/>
<circle cx="416.4" cy="214.4" r="4.6" fill="#0000ff"/>
<circle cx="458.4" cy="220.0" r="4.6" fill="#0000ff"/>
<circle cx="500.4" cy="222.5" r="4.6" fill="#0000ff"/>
<circle cx="542.4" cy="220.6" r="4.6" fill="#0000ff"/>
<circle cx="584.5" cy="215.8" r="4.6" fill="#0000ff"/>
<circle cx="626.5" cy="210.0" r="4.6" fill="#0000ff"/>
<circle cx="668.5" cy="204.6" r="4.6" fill="#0000ff"/>
<circle cx="710.6" cy="199.8" r="4.6" fill="#0000ff"/>
<circle cx="752.6" cy="202.7" r="4.6" fill="#0000ff"/>
<circle cx="794.6" cy="210.4" r="4.6" fill="#0000ff"/>
<circle cx="836.7" cy="220.8" r="4.6" fill="#0000ff"/>
<circle cx="878.7" cy="232.1" r="4.6" fill="#0000ff"/>
<circle cx="920.7" cy="243.6" r="4.6" fill="#0000ff"/>
<circle cx="962.7" cy="259.4" r="4.6" fill="#0000ff"/>
<circle cx="1004.8" cy="273.4" r="4.6" fill="#0000ff"/>
<circle cx="1046.8" cy="283.5" r="4.6" fill="#0000ff"/>
<circle cx="1088.8" cy="301.0" r="4.6" fill="#0000ff"/>
<circle cx="1130.9" cy="317.4" r="4.6" fill="#0000ff"/>
<circle cx="1172.9" cy="328.5" r="4.6" fill="#0000ff"/>
<circle cx="1214.9" cy="334.7" r="4.6" fill="#0000ff"/>
<circle cx="1257.0" cy="326.8" r="4.6" fill="#0000ff"/>
<circle cx="1299.0" cy="320.5" r="4.6" fill="#0000ff"/>
<circle cx="1341.0" cy="303.6" r="4.6" fill="#0000ff"/>
<circle cx="1383.0" cy="289.6" r="4.6" fill="#0000ff"/>
<circle cx="1425.1" cy="273.0" r="4.6" fill="#0000ff"/>
<circle cx="1467.1" cy="254.7" r="4.6" fill="#0000ff"/>
<circle cx="1509.1" cy="235.9" r="4.6" fill="#0000ff"/>
<circle cx="1551.2" cy="217.7" r="4.6" fill="#0000ff"/>
<circle cx="1593.2" cy="200.4" r="4.6" fill="#0000ff"/>
<circle cx="1635.2" cy="184.1" r="4.6" fill="#0000ff"/>
<circle cx="1677.2" cy="176.0" r="4.6" fill="#0000ff"/>
<circle cx="1719.3" cy="173.5" r="4.6" fill="#0000ff"/>
<polyline points="206.2,253.0 211.5,252.7 216.7,252.5 222.0,252.3 227.2,252.1 232.5,251.9 237.7,251.8 243.0,251.7 248.2,251.7 253.5,251.7 258.7,251.7 264.0,251.8 269.2,251.9 274.5,251.9 279.8,252.0 285.0,252.0 290.3,252.0 295.5,252.0 300.8,252.0 306.0,252.0 311.3,252.0 316.5,252.0 321.8,252.0 327.0,252.0 332.3,252.0 337.5,252.0 342.8,252.0 348.1,252.0 353.3,252.0 358.6,252.0 363.8,252.0 369.1,252.0 374.3,252.0 379.6,252.0 384.8,251.9 390.1,251.7 395.3,251.6 400.6,251.5 405.8,251.3 411.1,251.2 416.4,251.2 421.6,251.2 426.9,251.2 432.1,251.2 437.4,251.2 442.6,251.2 447.9,251.3 453.1,251.3 458.4,251.3 463.6,251.3 468.9,251.4 474.1,251.6 479.4,251.8 484.6,252.0 489.9,252.2 495.2,252.4 500.4,252.7 505.7,253.0 510.9,253.5 516.2,254.1 521.4,254.8 526.7,255.4 531.9,256.0 537.2,256.6 542.4,257.0 547.7,257.3 552.9,257.7 558.2,258.0 563.5,258.3 568.7,258.6 574.0,258.8 579.2,259.0 584.5,259.0 589.7,258.9 595.0,258.8 600.2,258.5 605.5,258.2 610.7,258.0 616.0,257.7 621.2,257.6 626.5,257.5 631.8,257.5 637.0,257.6 642.3,257.8 647.5,257.9 652.8,258.1 658.0,258.3 663.3,258.4 668.5,258.4 673.8,258.3 679.0,257.9 684.3,257.5 689.5,257.0 694.8,256.4 700.1,256.0 705.3,255.6 710.6,255.5 715.8,255.5 721.1,255.7 726.3,255.8 731.6,256.0 736.8,256.2 742.1,256.3 747.3,256.5 752.6,256.5 757.8,256.4 763.1,256.1 768.4,255.8 773.6,255.3 778.9,254.8 784.1,254.3 789.4,253.9 794.6,253.6 799.9,253.4 805.1,253.2 810.4,253.0 815.6,252.8 820.9,252.7 826.1,252.5 831.4,252.3 836.7,252.0 841.9,251.6 847.2,251.1 852.4,250.4 857.7,249.7 862.9,249.0 868.2,248.2 873.4,247.6 878.7,247.0 883.9,246.5 889.2,245.9 894.4,245.3 899.7,244.8 904.9,244.3 910.2,243.9 915.5,243.7 920.7,243.6 926.0,243.6 931.2,243.6 936.5,243.6 941.7,243.6 947.0,243.6 952.2,243.6 957.5,243.6 962.7,243.6 968.0,243.5 973.2,243.4 978.5,243.1 983.8,242.8 989.0,242.6 994.3,242.3 999.5,242.2 1004.8,242.1 1010.0,242.4 1015.3,243.1 1020.5,244.2 1025.8,245.5 1031.0,246.9 1036.3,248.3 1041.5,249.6 1046.8,250.6 1052.1,251.4 1057.3,252.1 1062.6,252.7 1067.8,253.3 1073.1,253.9 1078.3,254.6 1083.6,255.2 1088.8,256.0 1094.1,256.9 1099.3,257.9 1104.6,259.0 1109.8,260.1 1115.1,261.2 1120.4,262.3 1125.6,263.2 1130.9,264.0 1136.1,264.6 1141.4,265.2 1146.6,265.7 1151.9,266.2 1157.1,266.6 1162.4,267.1 1167.6,267.6 1172.9,268.2 1178.1,269.0 1183.4,269.9 1188.7,270.9 1193.9,272.0 1199.2,272.9 1204.4,273.8 1209.7,274.3 1214.9,274.5 1220.2,274.3 1225.4,273.9 1230.7,273.1 1235.9,272.3 1241.2,271.3 1246.4,270.3 1251.7,269.4 1257.0,268.5 1262.2,267.7 1267.5,266.9 1272.7,266.0 1278.0,265.2 1283.2,264.3 1288.5,263.5 1293.7,262.7 1299.0,262.0 1304.2,261.3 1309.5,260.6 1314.7,259.9 1320.0,259.3 1325.2,258.6 1330.5,258.0 1335.8,257.5 1341.0,257.0 1346.3,256.6 1351.5,256.2 1356.8,255.9 1362.0,255.6 1367.3,255.2 1372.5,254.9 1377.8,254.5 1383.0,254.0 1388.3,253.3 1393.5,252.5 1398.8,251.5 1404.1,250.4 1409.3,249.3 1414.6,248.4 1419.8,247.6 1425.1,247.1 1430.3,246.8 1435.6,246.5 1440.8,246.2 1446.1,246.0 1451.3,245.8 1456.6,245.6 1461.8,245.4 1467.1,245.3 1472.4,245.2 1477.6,245.1 1482.9,245.0 1488.1,244.9 1493.4,244.9 1498.6,244.8 1503.9,244.7 1509.1,244.6 1514.4,244.5 1519.6,244.3 1524.9,244.2 1530.1,244.0 1535.4,243.8 1540.7,243.7 1545.9,243.6 1551.2,243.6 1556.4,243.6 1561.7,243.6 1566.9,243.6 1572.2,243.6 1577.4,243.6 1582.7,243.6 1587.9,243.6 1593.2,243.6 1598.4,243.6 1603.7,243.6 1609.0,243.6 1614.2,243.6 1619.5,243.6 1624.7,243.6 1630.0,243.6 1635.2,243.6 1640.5,243.7 1645.7,244.1 1651.0,244.5 1656.2,245.1 1661.5,245.6 1666.7,246.0 1672.0,246.4 1677.2,246.5 1682.5,246.5 1687.8,246.4 1693.0,246.4 1698.3,246.2 1703.5,246.1 1708.8,245.8 1714.0,245.5 1719.3,245.1" stroke="#008000" stroke-width="3.7" stroke-dasharray="3.4 5.2"/>
<circle cx="206.2" cy="253.0" r="3.8" stroke="#008000" stroke-width="2.4" fill="#fff" fill-opacity="0"/>
<circle cx="248.2" cy="251.7" r="3.8" stroke="#008000" stroke-width="2.4" fill="#fff" fill-opacity="0"/>
<circle cx="290.3" cy="252.0" r="3.8" stroke="#008000" stroke-width="2.4" fill="#fff" fill-opacity="0"/>
<circle cx="332.3" cy="252.0" r="3.8" stroke="#008000" stroke-width="2.4" fill="#fff" fill-opacity="0"/>
<circle cx="374.3" cy="252.0" r="3.8" stroke="#008000" stroke-width="2.4" fill="#fff" fill-opacity="0"/>
<circle cx="416.4" cy="251.2" r="3.8" stroke="#008000" stroke-width="2.4" fill="#fff" fill-opacity="0"/>
<circle cx="458.4" cy="251.3" r="3.8" stroke="#008000" stroke-width="2.4" fill="#fff" fill-opacity="0"/>
<circle cx="500.4" cy="252.7" r="3.8" stroke="#008000" stroke-width="2.4" fill="#fff" fill-opacity="0"/>
<circle cx="542.4" cy="257.0" r="3.8" stroke="#008000" stroke-width="2.4" fill="#fff" fill-opacity="0"/>
<circle cx="584.5" cy="259.0" r="3.8" stroke="#008000" stroke-width="2.4" fill="#fff" fill-opacity="0"/>
<circle cx="626.5" cy="257.5" r="3.8" stroke="#008000" stroke-width="2.4" fill="#fff" fill-opacity="0"/>
<circle cx="668.5" cy="258.4" r="3.8" stroke="#008000" stroke-width="2.4" fill="#fff" fill-opacity="0"/>
<circle cx="710.6" cy="255.5" r="3.8" stroke="#008000" stroke-width="2.4" fill="#fff" fill-opacity="0"/>
<circle cx="752.6" cy="256.5" r="3.8" stroke="#008000" stroke-width="2.4" fill="#fff" fill-opacity="0"/>
<circle cx="794.6" cy="253.6" r="3.8" stroke="#008000" stroke-width="2.4" fill="#fff" fill-opacity="0"/>
<circle cx="836.7" cy="252.0" r="3.8" stroke="#008000" stroke-width="2.4" fill="#fff" fill-opacity="0"/>
<circle cx="878.7" cy="247.0" r="3.8" stroke="#008000" stroke-width="2.4" fill="#fff" fill-opacity="0"/>
<circle cx="920.7" cy="243.6" r="3.8" stroke="#008000" stroke-width="2.4" fill="#fff" fill-opacity="0"/>
<circle cx="962.7" cy="243.6" r="3.8" stroke="#008000" stroke-width="2.4" fill="#fff" fill-opacity="0"/>
<circle cx="1004.8" cy="242.1" r="3.8" stroke="#008000" stroke-width="2.4" fill="#fff" fill-opacity="0"/>
<circle cx="1046.8" cy="250.6" r="3.8" stroke="#008000" stroke-width="2.4" fill="#fff" fill-opacity="0"/>
<circle cx="1088.8" cy="256.0" r="3.8" stroke="#008000" stroke-width="2.4" fill="#fff" fill-opacity="0"/>
<circle cx="1130.9" cy="264.0" r="3.8" stroke="#008000" stroke-width="2.4" fill="#fff" fill-opacity="0"/>
<circle cx="1172.9" cy="268.2" r="3.8" stroke="#008000" stroke-width="2.4" fill="#fff" fill-opacity="0"/>
<circle cx="1214.9" cy="274.5" r="3.8" stroke="#008000" stroke-width="2.4" fill="#fff" fill-opacity="0"/>
<circle cx="1257.0" cy="268.5" r="3.8" stroke="#008000" stroke-width="2.4" fill="#fff" fill-opacity="0"/>
<circle cx="1299.0" cy="262.0" r="3.8" stroke="#008000" stroke-width="2.4" fill="#fff" fill-opacity="0"/>
<circle cx="1341.0" cy="257.0" r="3.8" stroke="#008000" stroke-width="2.4" fill="#fff" fill-opacity="0"/>
<circle cx="1383.0" cy="254.0" r="3.8" stroke="#008000" stroke-width="2.4" fill="#fff" fill-opacity="0"/>
<circle cx="1425.1" cy="247.1" r="3.8" stroke="#008000" stroke-width="2.4" fill="#fff" fill-opacity="0"/>
<circle cx="1467.1" cy="245.3" r="3.8" stroke="#008000" stroke-width="2.4" fill="#fff" fill-opacity="0"/>
<circle cx="1509.1" cy="244.6" r="3.8" stroke="#008000" stroke-width="2.4" fill="#fff" fill-opacity="0"/>
<circle cx="1551.2" cy="243.6" r="3.8" stroke="#008000" stroke-width="2.4" fill="#fff" fill-opacity="0"/>
<circle cx="1593.2" cy="243.6" r="3.8" stroke="#008000" stroke-width="2.4" fill="#fff" fill-opacity="0"/>
<circle cx="1635.2" cy="243.6" r="3.8" stroke="#008000" stroke-width="2.4" fill="#fff" fill-opacity="0"/>
<circle cx="1677.2" cy="246.5" r="3.8" stroke="#008000" stroke-width="2.4" fill="#fff" fill-opacity="0"/>
<circle cx="1719.3" cy="245.1" r="3.8" stroke="#008000" stroke-width="2.4" fill="#fff" fill-opacity="0"/>
<polyline points="206.2,181.2 211.5,181.2 216.7,181.3 222.0,181.3 227.2,181.4 232.5,181.5 237.7,181.6 243.0,181.7 248.2,181.8 253.5,181.9 258.7,182.1 264.0,182.2 269.2,182.4 274.5,182.6 279.8,182.8 285.0,183.1 290.3,183.3 295.5,183.6 300.8,183.9 306.0,184.2 311.3,184.5 316.5,184.8 321.8,185.2 327.0,185.5 332.3,185.8 337.5,186.1 342.8,186.4 348.1,186.6 353.3,186.9 358.6,187.2 363.8,187.4 369.1,187.6 374.3,187.8 379.6,188.0 384.8,188.1 390.1,188.3 395.3,188.4 400.6,188.5 405.8,188.6 411.1,188.7 416.4,188.7 421.6,188.7 426.9,188.6 432.1,188.6 437.4,188.5 442.6,188.3 447.9,188.2 453.1,188.1 458.4,187.9 463.6,187.7 468.9,187.5 474.1,187.2 479.4,186.9 484.6,186.6 489.9,186.2 495.2,185.8 500.4,185.4 505.7,185.0 510.9,184.5 516.2,183.9 521.4,183.3 526.7,182.7 531.9,182.1 537.2,181.5 542.4,181.0 547.7,180.5 552.9,180.0 558.2,179.5 563.5,179.0 568.7,178.5 574.0,178.0 579.2,177.6 584.5,177.2 589.7,176.8 595.0,176.4 600.2,176.1 605.5,175.7 610.7,175.4 616.0,175.1 621.2,174.8 626.5,174.5 631.8,174.2 637.0,173.9 642.3,173.7 647.5,173.4 652.8,173.1 658.0,172.9 663.3,172.7 668.5,172.6 673.8,172.5 679.0,172.4 684.3,172.3 689.5,172.3 694.8,172.2 700.1,172.2 705.3,172.1 710.6,172.0 715.8,171.9 721.1,171.7 726.3,171.6 731.6,171.4 736.8,171.3 742.1,171.1 747.3,171.0 752.6,171.0 757.8,171.0 763.1,171.1 768.4,171.3 773.6,171.5 778.9,171.7 784.1,172.0 789.4,172.3 794.6,172.6 799.9,173.0 805.1,173.4 810.4,174.0 815.6,174.6 820.9,175.3 826.1,176.0 831.4,176.8 836.7,177.6 841.9,178.5 847.2,179.4 852.4,180.5 857.7,181.6 862.9,182.8 868.2,184.0 873.4,185.2 878.7,186.4 883.9,187.6 889.2,188.9 894.4,190.1 899.7,191.4 904.9,192.8 910.2,194.2 915.5,195.6 920.7,197.1 926.0,198.7 931.2,200.3 936.5,202.0 941.7,203.8 947.0,205.6 952.2,207.4 957.5,209.2 962.7,211.0 968.0,212.8 973.2,214.6 978.5,216.4 983.8,218.2 989.0,220.0 994.3,221.8 999.5,223.6 1004.8,225.4 1010.0,227.2 1015.3,229.0 1020.5,230.9 1025.8,232.7 1031.0,234.5 1036.3,236.3 1041.5,238.2 1046.8,240.0 1052.1,241.9 1057.3,243.9 1062.6,245.9 1067.8,247.8 1073.1,249.8 1078.3,251.6 1083.6,253.3 1088.8,254.8 1094.1,256.1 1099.3,257.4 1104.6,258.6 1109.8,259.7 1115.1,260.7 1120.4,261.7 1125.6,262.7 1130.9,263.7 1136.1,264.7 1141.4,265.7 1146.6,266.6 1151.9,267.5 1157.1,268.4 1162.4,269.3 1167.6,270.1 1172.9,270.8 1178.1,271.6 1183.4,272.4 1188.7,273.2 1193.9,273.9 1199.2,274.6 1204.4,275.1 1209.7,275.5 1214.9,275.6 1220.2,275.5 1225.4,275.1 1230.7,274.5 1235.9,273.8 1241.2,272.9 1246.4,272.1 1251.7,271.3 1257.0,270.5 1262.2,269.8 1267.5,269.1 1272.7,268.3 1278.0,267.6 1283.2,266.8 1288.5,265.9 1293.7,265.1 1299.0,264.2 1304.2,263.3 1309.5,262.3 1314.7,261.3 1320.0,260.2 1325.2,259.1 1330.5,258.0 1335.8,256.8 1341.0,255.5 1346.3,254.1 1351.5,252.6 1356.8,251.0 1362.0,249.4 1367.3,247.7 1372.5,246.0 1377.8,244.3 1383.0,242.6 1388.3,241.0 1393.5,239.4 1398.8,237.8 1404.1,236.2 1409.3,234.5 1414.6,232.9 1419.8,231.2 1425.1,229.5 1430.3,227.7 1435.6,225.9 1440.8,224.0 1446.1,222.1 1451.3,220.2 1456.6,218.3 1461.8,216.5 1467.1,214.8 1472.4,213.1 1477.6,211.5 1482.9,209.9 1488.1,208.4 1493.4,206.8 1498.6,205.3 1503.9,203.8 1509.1,202.3 1514.4,200.8 1519.6,199.3 1524.9,197.8 1530.1,196.4 1535.4,194.9 1540.7,193.5 1545.9,192.1 1551.2,190.8 1556.4,189.5 1561.7,188.1 1566.9,186.8 1572.2,185.5 1577.4,184.3 1582.7,183.2 1587.9,182.1 1593.2,181.2 1598.4,180.4 1603.7,179.6 1609.0,178.9 1614.2,178.2 1619.5,177.6 1624.7,177.0 1630.0,176.5 1635.2,176.0 1640.5,175.5 1645.7,175.0 1651.0,174.5 1656.2,174.0 1661.5,173.6 1666.7,173.3 1672.0,173.1 1677.2,173.0 1682.5,173.0 1687.8,173.0 1693.0,173.0 1698.3,173.0 1703.5,173.0 1708.8,173.0 1714.0,173.0 1719.3,173.0" stroke="#008000" stroke-width="3.7"/>
<circle cx="206.2" cy="181.2" r="4.6" fill="#008000"/>
<circle cx="248.2" cy="181.8" r="4.6" fill="#008000"/>
<circle cx="290.3" cy="183.3" r="4.6" fill="#008000"/>
<circle cx="332.3" cy="185.8" r="4.6" fill="#008000"/>
<circle cx="374.3" cy="187.8" r="4.6" fill="#008000"/>
<circle cx="416.4" cy="188.7" r="4.6" fill="#008000"/>
<circle cx="458.4" cy="187.9" r="4.6" fill="#008000"/>
<circle cx="500.4" cy="185.4" r="4.6" fill="#008000"/>
<circle cx="542.4" cy="181.0" r="4.6" fill="#008000"/>
<circle cx="584.5" cy="177.2" r="4.6" fill="#008000"/>
<circle cx="626.5" cy="174.5" r="4.6" fill="#008000"/>
<circle cx="668.5" cy="172.6" r="4.6" fill="#008000"/>
<circle cx="710.6" cy="172.0" r="4.6" fill="#008000"/>
<circle cx="752.6" cy="171.0" r="4.6" fill="#008000"/>
<circle cx="794.6" cy="172.6" r="4.6" fill="#008000"/>
<circle cx="836.7" cy="177.6" r="4.6" fill="#008000"/>
<circle cx="878.7" cy="186.4" r="4.6" fill="#008000"/>
<circle cx="920.7" cy="197.1" r="4.6" fill="#008000"/>
<circle cx="962.7" cy="211.0" r="4.6" fill="#008000"/>
<circle cx="1004.8" cy="225.4" r="4.6" fill="#008000"/>
<circle cx="1046.8" cy="240.0" r="4.6" fill="#008000"/>
<circle cx="1088.8" cy="254.8" r="4.6" fill="#008000"/>
<circle cx="1130.9" cy="263.7" r="4.6" fill="#008000"/>
<circle cx="1172.9" cy="270.8" r="4.6" fill="#008000"/>
<circle cx="1214.9" cy="275.6" r="4.6" fill="#008000"/>
<circle cx="1257.0" cy="270.5" r="4.6" fill="#008000"/>
<circle cx="1299.0" cy="264.2" r="4.6" fill="#008000"/>
<circle cx="1341.0" cy="255.5" r="4.6" fill="#008000"/>
<circle cx="1383.0" cy="242.6" r="4.6" fill="#008000"/>
<circle cx="1425.1" cy="229.5" r="4.6" fill="#008000"/>
<circle cx="1467.1" cy="214.8" r="4.6" fill="#008000"/>
<circle cx="1509.1" cy="202.3" r="4.6" fill="#008000"/>
<circle cx="1551.2" cy="190.8" r="4.6" fill="#008000"/>
<circle cx="1593.2" cy="181.2" r="4.6" fill="#008000"/>
<circle cx="1635.2" cy="176.0" r="4.6" fill="#008000"/>
<circle cx="1677.2" cy="173.0" r="4.6" fill="#008000"/>
<circle cx="1719.3" cy="173.0" r="4.6" fill="#008000"/>
</g>
<line x1="710.6" y1="40.45" x2="710.6" y2="962.8" stroke="#000" stroke-width="4.8" stroke-dasharray="4.2 4.42" stroke-dashoffset="3.32"/>
<line x1="1214.9" y1="40.45" x2="1214.9" y2="962.8" stroke="#000" stroke-width="4.8" stroke-dasharray="4.2 4.42" stroke-dashoffset="3.32"/>
<g font-family="Liberation Serif, DejaVu Serif, serif" font-size="53.5" fill="#262626">
<text x="170" y="975.6" text-anchor="end">1.4</text>
<text x="170" y="843.8" text-anchor="end">1.6</text>
<text x="170" y="712.0" text-anchor="end">1.8</text>
<text x="170" y="580.2" text-anchor="end">2</text>
<text x="170" y="448.4" text-anchor="end">2.2</text>
<text x="170" y="316.7" text-anchor="end">2.4</text>
<text x="170" y="184.9" text-anchor="end">2.6</text>
<text x="170" y="53.1" text-anchor="end">2.8</text>
<text x="206.2" y="1022" text-anchor="middle">0</text>
<text x="416.4" y="1022" text-anchor="middle">5</text>
<text x="626.5" y="1022" text-anchor="middle">10</text>
<text x="836.7" y="1022" text-anchor="middle">15</text>
<text x="1046.8" y="1022" text-anchor="middle">20</text>
<text x="1257.0" y="1022" text-anchor="middle">25</text>
<text x="1467.1" y="1022" text-anchor="middle">30</text>
<text x="1677.2" y="1022" text-anchor="middle">35</text>
</g>
<g font-family="Liberation Serif, DejaVu Serif, serif" font-size="55" fill="#262626">
<text transform="translate(76,777.3) rotate(-90) scale(0.685,1)" font-family="DejaVu Math TeX Gyre, DejaVu Serif, serif" font-size="63.5">&#x27E8;</text>
<text transform="translate(74,754.6) rotate(-90) scale(1.19,1)" font-size="53.3" font-style="italic">&#x3BC;</text>
<text transform="translate(76,723.1) rotate(-90) scale(0.59,1)" font-family="DejaVu Math TeX Gyre, DejaVu Serif, serif" font-size="63.5">&#x27E9;</text>
<text transform="translate(73,679) rotate(-90)" textLength="77" lengthAdjust="spacingAndGlyphs" >per</text>
<text transform="translate(73,580) rotate(-90)" textLength="80" lengthAdjust="spacingAndGlyphs" >Mn</text>
<text transform="translate(73,474) rotate(-90)" textLength="121" lengthAdjust="spacingAndGlyphs" >atom</text>
<text transform="translate(73.5,330.3) rotate(-90) scale(0.86,1)" font-size="62.8">(</text>
<text transform="translate(74,310.8) rotate(-90) scale(1.19,1)" font-size="53.3" font-style="italic">&#x3BC;</text>
<text transform="translate(81.4,270.4) rotate(-90) scale(0.935,1)" font-size="39.7" font-style="italic">B</text>
<text transform="translate(73.5,242.8) rotate(-90) scale(0.86,1)" font-size="62.8">)</text>
</g>
<g font-family="Liberation Serif, DejaVu Serif, serif" fill="#262626">
<text x="851.8" y="1092.3" font-size="51.6" font-style="italic" textLength="31.5" lengthAdjust="spacingAndGlyphs" >n</text>
<text x="904" y="1092.5" font-size="55" textLength="64" lengthAdjust="spacingAndGlyphs">for</text>
<text x="1004.5" y="1070.9" font-size="34.7" font-style="italic" textLength="21.2" lengthAdjust="spacingAndGlyphs" >n</text>
<line x1="997.5" y1="1079" x2="1036" y2="1079" stroke="#262626" stroke-width="2"/>
<text x="997" y="1113.5" font-size="38.8">36</text>
<text x="1043.7" y="1092.3" font-size="48.2" font-style="italic" textLength="29.4" lengthAdjust="spacingAndGlyphs" >u</text>
<text x="1045.5" y="1065.4" font-size="40" stroke="#262626" stroke-width="0.8">&#x2192;</text>
</g>
<g font-family="Liberation Serif, DejaVu Serif, serif" fill="#262626">
<text x="740.1" y="922.6999999999999" font-size="32.5" text-anchor="middle">1</text><line x1="730.6" y1="928.3" x2="747.6" y2="928.3" stroke="#262626" stroke-width="1.7"/><text x="740.1" y="956.0999999999999" font-size="33.5" text-anchor="middle">3</text><text x="754.4" y="940.3" font-size="41.5" font-style="italic" textLength="25.3" lengthAdjust="spacingAndGlyphs" >u</text><text x="753.9" y="917.6" font-size="33" stroke="#262626" stroke-width="0.6">&#x2192;</text>
<text x="1244.5" y="920.6999999999999" font-size="32.5" text-anchor="middle">2</text><line x1="1235" y1="926.3" x2="1252" y2="926.3" stroke="#262626" stroke-width="1.7"/><text x="1244.5" y="954.0999999999999" font-size="33.5" text-anchor="middle">3</text><text x="1258.0" y="937.9" font-size="41.5" font-style="italic" textLength="25.3" lengthAdjust="spacingAndGlyphs" >u</text><text x="1258.2" y="915.8" font-size="33" stroke="#262626" stroke-width="0.6">&#x2192;</text>
</g>
<rect x="208" y="594.3" width="510.70000000000005" height="346.5" fill="#fff" stroke="#262626" stroke-width="3.4"/>
<g font-family="Liberation Serif, DejaVu Serif, serif" font-size="46" fill="#262626">
<line x1="216" y1="626.3" x2="302.5" y2="626.3" stroke="#ff0000" stroke-width="4.1" stroke-dasharray="3.4 5.2"/>
<text x="310" y="636.1" textLength="401" lengthAdjust="spacingAndGlyphs">layer 1, non-relaxed</text>
<line x1="216" y1="683.0" x2="302.5" y2="683.0" stroke="#ff0000" stroke-width="4.1"/>
<text x="310" y="692.8" textLength="310" lengthAdjust="spacingAndGlyphs">layer 1, relaxed</text>
<line x1="216" y1="739.7" x2="302.5" y2="739.7" stroke="#0000ff" stroke-width="4.1" stroke-dasharray="3.4 5.2"/>
<text x="310" y="749.5" textLength="401" lengthAdjust="spacingAndGlyphs">layer 2, non-relaxed</text>
<line x1="216" y1="796.4" x2="302.5" y2="796.4" stroke="#0000ff" stroke-width="4.1"/>
<text x="310" y="806.2" textLength="310" lengthAdjust="spacingAndGlyphs">layer 2, relaxed</text>
<line x1="216" y1="853.1" x2="302.5" y2="853.1" stroke="#008000" stroke-width="4.1" stroke-dasharray="3.4 5.2"/>
<text x="310" y="862.9" textLength="401" lengthAdjust="spacingAndGlyphs">layer 3, non-relaxed</text>
<line x1="216" y1="909.8" x2="302.5" y2="909.8" stroke="#008000" stroke-width="4.1"/>
<text x="310" y="919.6" textLength="310" lengthAdjust="spacingAndGlyphs">layer 3, relaxed</text>
</g>
</g>
</svg></body></html>
